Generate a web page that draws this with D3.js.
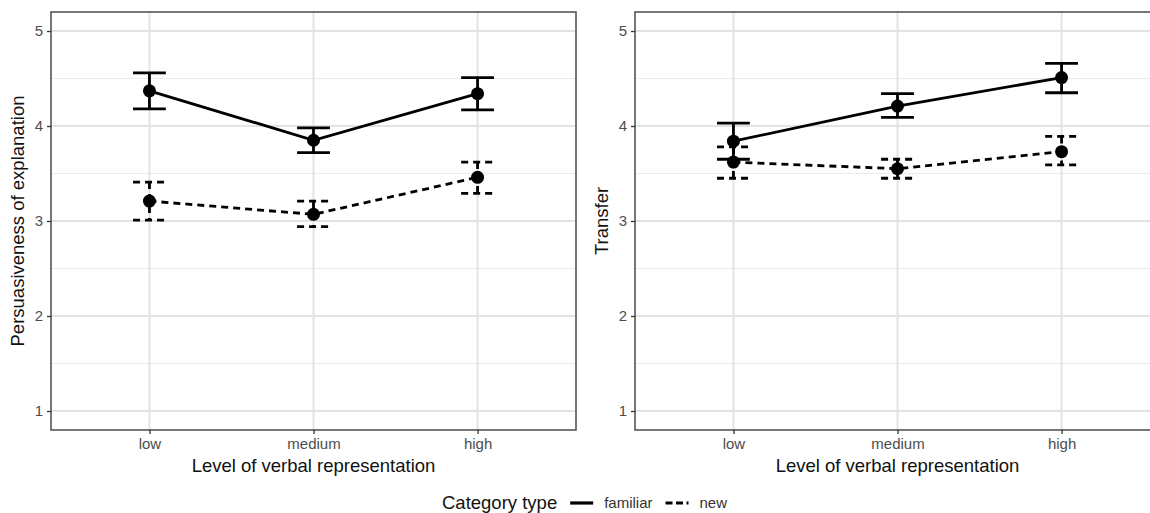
<!DOCTYPE html>
<html>
<head>
<meta charset="utf-8">
<script src="https://cdn.jsdelivr.net/npm/d3@7"></script>
<style>
  html, body { margin: 0; padding: 0; background: #fff; }
  svg { display: block; font-family: "Liberation Sans", Arial, Helvetica, sans-serif; }
</style>
</head>
<body>
<svg id="chart" width="1150" height="513"></svg>
<script>
// ---- Data ----
const levels = ["low", "medium", "high"];
const yTicks = [1, 2, 3, 4, 5];
const seriesNames = ["familiar", "new"];

const persFamiliar   = [4.37, 3.85, 4.34];
const persFamiliarLo = [4.18, 3.72, 4.17];
const persFamiliarHi = [4.56, 3.98, 4.51];
const persNew        = [3.21, 3.07, 3.46];
const persNewLo      = [3.01, 2.94, 3.29];
const persNewHi      = [3.41, 3.21, 3.62];

const transFamiliar   = [3.84, 4.21, 4.51];
const transFamiliarLo = [3.65, 4.09, 4.35];
const transFamiliarHi = [4.03, 4.34, 4.66];
const transNew        = [3.62, 3.55, 3.73];
const transNewLo      = [3.45, 3.45, 3.59];
const transNewHi      = [3.78, 3.65, 3.89];

const panels = [
  { ylab: "Persuasiveness of explanation",
    series: [
      { name: "familiar", mean: persFamiliar, lo: persFamiliarLo, hi: persFamiliarHi },
      { name: "new", mean: persNew, lo: persNewLo, hi: persNewHi }
    ] },
  { ylab: "Transfer",
    series: [
      { name: "familiar", mean: transFamiliar, lo: transFamiliarLo, hi: transFamiliarHi },
      { name: "new", mean: transNew, lo: transNewLo, hi: transNewHi }
    ] }
];

// ---- Layout ----
const svg = d3.select("#chart");
const panelTop = 12, panelBottom = 430;
const panelLefts = [51, 635];
const panelWidth = 525;
const dashFor = name => name === "new" ? "7,5" : null;

const y = d3.scaleLinear().domain([0.8, 5.2]).range([panelBottom, panelTop]);
const minorY = [1.5, 2.5, 3.5, 4.5];

panels.forEach((p, pi) => {
  const left = panelLefts[pi];
  const xc = d3.scaleLinear().domain([0.4, 3.6]).range([left, left + panelWidth]);
  const x = name => xc(levels.indexOf(name) + 1);
  const g = svg.append("g");

  const clipId = "clip" + pi;
  svg.append("clipPath").attr("id", clipId)
    .append("rect").attr("x", left).attr("y", panelTop)
    .attr("width", panelWidth).attr("height", panelBottom - panelTop);
  const pg = g.append("g").attr("clip-path", `url(#${clipId})`);

  // grid
  pg.selectAll(".minor").data(minorY).join("line")
    .attr("x1", left).attr("x2", left + panelWidth)
    .attr("y1", d => y(d)).attr("y2", d => y(d))
    .attr("stroke", "#ebebeb").attr("stroke-width", 1.2);
  pg.selectAll(".majorY").data(yTicks).join("line")
    .attr("x1", left).attr("x2", left + panelWidth)
    .attr("y1", d => y(d)).attr("y2", d => y(d))
    .attr("stroke", "#e3e3e3").attr("stroke-width", 2);
  pg.selectAll(".majorX").data(levels).join("line")
    .attr("x1", d => x(d)).attr("x2", d => x(d))
    .attr("y1", panelTop).attr("y2", panelBottom)
    .attr("stroke", "#e3e3e3").attr("stroke-width", 2);

  const capHalf = (xc(1.1) - xc(1));

  p.series.forEach(s => {
    const dash = dashFor(s.name);
    const pts = levels.map((l, i) => ({ l, m: s.mean[i], lo: s.lo[i], hi: s.hi[i] }));
    const eb = pg.append("g");
    pts.forEach(d => {
      const path = `M${x(d.l) - capHalf},${y(d.hi)}H${x(d.l) + capHalf}M${x(d.l)},${y(d.hi)}V${y(d.lo)}M${x(d.l) - capHalf},${y(d.lo)}H${x(d.l) + capHalf}`;
      eb.append("path").attr("d", path).attr("fill", "none")
        .attr("stroke", "#000").attr("stroke-width", 2.8)
        .attr("stroke-dasharray", dash);
    });
    const line = d3.line().x(d => x(d.l)).y(d => y(d.m));
    pg.append("path").datum(pts).attr("d", line).attr("fill", "none")
      .attr("stroke", "#000").attr("stroke-width", 2.8)
      .attr("stroke-dasharray", dash);
    pg.selectAll(null).data(pts).join("circle")
      .attr("cx", d => x(d.l)).attr("cy", d => y(d.m)).attr("r", 6.5)
      .attr("fill", "#000");
  });

  // border
  g.append("rect").attr("x", left).attr("y", panelTop)
    .attr("width", panelWidth).attr("height", panelBottom - panelTop)
    .attr("fill", "none").attr("stroke", "#555").attr("stroke-width", 1.6);

  // y axis
  const yAxis = d3.axisLeft(y).tickValues(yTicks).tickSize(4).tickPadding(4).tickFormat(d3.format("d"));
  const ya = g.append("g").attr("transform", `translate(${left},0)`).call(yAxis);
  ya.select(".domain").remove();
  ya.selectAll(".tick line").attr("stroke", "#333").attr("stroke-width", 1.3);
  ya.selectAll(".tick text").attr("fill", "#4d4d4d").attr("font-size", 15)
    .attr("font-family", "Liberation Sans, Arial, sans-serif");

  // x axis
  const xAxis = d3.axisBottom(d3.scalePoint().domain(levels).range([x("low"), x("high")]))
    .tickSize(4).tickPadding(4);
  const xa = g.append("g").attr("transform", `translate(0,${panelBottom})`).call(xAxis);
  xa.select(".domain").remove();
  xa.selectAll(".tick line").attr("stroke", "#333").attr("stroke-width", 1.3);
  xa.selectAll(".tick text").attr("fill", "#4d4d4d").attr("font-size", 15)
    .attr("font-family", "Liberation Sans, Arial, sans-serif");

  // axis titles
  g.append("text").attr("x", x("medium")).attr("y", 472)
    .attr("text-anchor", "middle").attr("font-size", 18.5).attr("fill", "#111")
    .text("Level of verbal representation");
  g.append("text")
    .attr("transform", `translate(${left - 27},${(panelTop + panelBottom) / 2}) rotate(-90)`)
    .attr("text-anchor", "middle").attr("font-size", 18.5).attr("fill", "#111")
    .text(p.ylab);
});

// ---- Legend ----
const lg = svg.append("g");
const legY = 503;
const title = lg.append("text").attr("x", 0).attr("y", legY + 6)
  .attr("font-size", 18.5).attr("fill", "#111").text("Category type");
let cx = title.node().getComputedTextLength() + 13;
seriesNames.forEach((name, i) => {
  lg.append("line").attr("x1", cx).attr("x2", cx + 23).attr("y1", legY).attr("y2", legY)
    .attr("stroke", "#000").attr("stroke-width", 3.2)
    .attr("stroke-dasharray", name === "new" ? "7,3.5" : null);
  cx += 34;
  const t = lg.append("text").attr("x", cx).attr("y", legY + 5)
    .attr("font-size", 15).attr("fill", "#333").text(name);
  cx += t.node().getComputedTextLength() + (i === 0 ? 13 : 0);
});
lg.attr("transform", `translate(${442},0)`);
</script>
</body>
</html>
